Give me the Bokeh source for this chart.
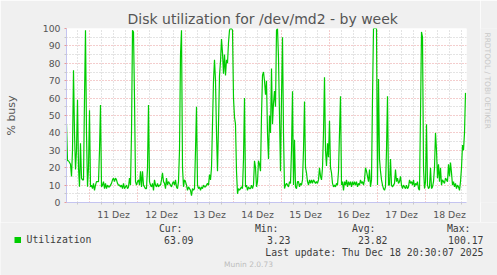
import math
from bokeh.plotting import figure
from bokeh.layouts import column, row
from bokeh.models import Range1d, FixedTicker, Legend, LegendItem
from bokeh.core.properties import value
from bokeh.embed import file_html
from bokeh.resources import INLINE

# ---------------- data ----------------
TITLE = "Disk utilization for /dev/md2 - by week"
Y_LABEL = "% busy"
SERIES_NAME = "Utilization"

START_HOUR = 12.5      # Dec 10, 12:30 (hours since Dec 10 00:00)
STEP_HOURS = 0.5       # one sample every 30 minutes
END_HOUR = 212.5       # Dec 18, 20:30

utilization = [
    45, 24, 24, 23, 22, 15, 30, 76, 40, 19,
    30, 59, 20, 9, 34, 14, 13, 13, 60, 99,
    40, 9, 20, 53, 9, 10, 8, 11, 7, 10,
    12, 12, 12, 30, 56, 9, 10, 12, 8, 11,
    8, 10, 9, 9, 10, 11, 13, 14, 12, 14,
    13, 11, 10, 10, 9, 10, 8, 11, 8, 9,
    10, 8, 9, 14, 10, 40, 99, 98, 60, 12,
    10, 12, 13, 10, 18, 9, 18, 10, 9, 8,
    8, 20, 56, 12, 10, 9, 11, 7, 13, 10,
    9, 11, 9, 10, 10, 13, 17, 12, 11, 8,
    14, 10, 12, 11, 10, 9, 11, 12, 10, 13,
    9, 8, 12, 30, 85, 99, 20, 9, 13, 12,
    10, 7, 9, 8, 7, 4, 8, 7, 8, 30,
    55, 10, 8, 9, 7, 9, 8, 10, 9, 9,
    10, 11, 10, 16, 13, 20, 45, 70, 82, 70,
    40, 18, 45, 73, 81, 94, 86, 74, 85, 73,
    82, 80, 92, 99, 100.2, 100, 99, 60, 49, 45,
    18, 5, 8, 7, 8, 9, 8, 25, 60, 9,
    10, 7, 9, 8, 8, 10, 8, 10, 24, 20,
    9, 12, 24, 22, 18, 50, 73, 75, 70, 62,
    70, 40, 25, 50, 40, 77, 45, 57, 64, 55,
    99, 100, 83, 50, 18, 60, 95, 40, 8, 10,
    11, 10, 9, 12, 11, 30, 64, 10, 36, 9,
    8, 12, 12, 9, 11, 10, 13, 30, 58, 20,
    17, 12, 10, 13, 11, 13, 11, 13, 12, 11,
    12, 11, 13, 20, 15, 13, 20, 40, 72, 30,
    21, 34, 26, 47, 20, 17, 11, 9, 10, 9,
    11, 10, 18, 40, 61, 10, 12, 7, 12, 10,
    13, 9, 12, 10, 12, 9, 12, 10, 12, 10,
    12, 9, 11, 10, 13, 11, 12, 10, 13, 20,
    18, 15, 12, 19, 9, 13, 60, 100, 100, 100,
    100, 10, 71, 25, 18, 13, 10, 8, 7, 9,
    30, 61, 10, 10, 25, 10, 9, 10, 11, 19,
    12, 14, 11, 12, 15, 10, 8, 10, 9, 8,
    10, 8, 9, 13, 11, 12, 10, 13, 9, 11,
    10, 12, 8, 7, 50, 98, 95, 20, 8, 12,
    45, 10, 8, 9, 20, 8, 9, 12, 20, 40,
    30, 14, 22, 12, 20, 10, 13, 12, 11, 14,
    13, 12, 22, 15, 23, 17, 10, 12, 9, 11,
    8, 10, 9, 7, 12, 20, 33, 30, 40, 63,
]

day_labels = ["11 Dez", "12 Dez", "13 Dez", "14 Dez",
              "15 Dez", "16 Dez", "17 Dez", "18 Dez"]
day_noon_hours = [36, 60, 84, 108, 132, 156, 180, 204]
day_start_hours = [24, 48, 72, 96, 120, 144, 168, 192]
six_hour_marks = [18, 30, 36, 42, 54, 60, 66, 78, 84, 90, 102, 108, 114,
                  126, 132, 138, 150, 156, 162, 174, 180, 186, 198, 204, 210]

y_ticks = [0, 10, 20, 30, 40, 50, 60, 70, 80, 90, 100]
y_minor = [5, 15, 25, 35, 45, 55, 65, 75, 85, 95]

stat_names = ["Cur:", "Min:", "Avg:", "Max:"]
stat_values = ["63.09", "3.23", "23.82", "100.17"]
last_update = "Last update: Thu Dec 18 20:30:07 2025"
munin_version = "Munin 2.0.73"
watermark = "RRDTOOL / TOBI OETIKER"

hours = [START_HOUR + i * STEP_HOURS for i in range(len(utilization))]

# ---------------- styling / layout ----------------
W, H = 497, 275
MAIN_W, MAIN_H = 480, 222
FL, FT, FW, FH = 66, 28, 400, 175
BG = "#f0f0f0"
AXIS_COL = "#c4c4f0"
MAJOR_GRID = "#e89a9a"
MINOR_GRID = "#c8c8c8"
GREEN = "#00cc00"
TXT = "#555555"
LEG_TXT = "#3c3c3c"
MONO = "DejaVu Sans Mono"

p = figure(width=MAIN_W, height=MAIN_H, output_backend="svg", toolbar_location=None,
           x_range=Range1d(START_HOUR, END_HOUR), y_range=Range1d(0, 100),
           min_border_left=FL, min_border_right=MAIN_W - FL - FW,
           min_border_top=FT, min_border_bottom=MAIN_H - FT - FH,
           background_fill_color="white", border_fill_color=BG,
           outline_line_color=None)

p.title.text = TITLE
p.title.align = "left"
p.title.offset = 61
p.title.text_font = "DejaVu Sans"
p.title.text_font_size = "14px"
p.title.text_font_style = "normal"
p.title.text_color = TXT
p.title.standoff = 3

xa = p.xaxis[0]
xa.ticker = FixedTicker(ticks=day_noon_hours, minor_ticks=six_hour_marks)
xa.major_label_overrides = {h: lab for h, lab in zip(day_noon_hours, day_labels)}
xa.axis_line_color = AXIS_COL
xa.major_tick_out = 0
xa.major_tick_in = 0
xa.minor_tick_out = 2
xa.minor_tick_in = 0
xa.minor_tick_line_color = MINOR_GRID
xa.major_label_standoff = 4
xa.major_label_text_font = "DejaVu Sans"
xa.major_label_text_font_size = "9.3px"
xa.major_label_text_color = TXT

ya = p.yaxis[0]
ya.ticker = FixedTicker(ticks=y_ticks, minor_ticks=y_minor)
ya.axis_line_color = AXIS_COL
ya.major_tick_out = 2
ya.major_tick_in = 0
ya.major_tick_line_color = MAJOR_GRID
ya.minor_tick_out = 2
ya.minor_tick_in = 0
ya.minor_tick_line_color = MINOR_GRID
ya.major_label_standoff = 4
ya.major_label_text_font = "DejaVu Sans"
ya.major_label_text_font_size = "9.3px"
ya.major_label_text_color = TXT
ya.axis_label = Y_LABEL
ya.axis_label_text_font = "DejaVu Sans"
ya.axis_label_text_font_size = "11px"
ya.axis_label_text_font_style = "normal"
ya.axis_label_text_color = TXT
ya.axis_label_standoff = 22

xg = p.xgrid[0]
xg.ticker = FixedTicker(ticks=day_start_hours, minor_ticks=six_hour_marks)
xg.grid_line_color = MAJOR_GRID
xg.grid_line_dash = "1 2"
xg.minor_grid_line_color = MINOR_GRID
xg.minor_grid_line_dash = "1 2"
yg = p.ygrid[0]
yg.ticker = FixedTicker(ticks=y_ticks[1:], minor_ticks=y_minor)
yg.grid_line_color = MAJOR_GRID
yg.grid_line_dash = "1 2"
yg.minor_grid_line_color = MINOR_GRID
yg.minor_grid_line_dash = "1 2"

p.line(hours, utilization, line_color=GREEN, line_width=1.2)


def panel(w, h):
    f = figure(width=w, height=h, output_backend="svg", toolbar_location=None,
               x_range=Range1d(0, w), y_range=Range1d(h, 0),
               x_axis_type=None, y_axis_type=None, min_border=0,
               background_fill_color=BG, border_fill_color=BG,
               outline_line_color=None)
    f.xgrid.visible = False
    f.ygrid.visible = False
    return f


# watermark strip at the right (pixel coordinates inside the strip)
wm = panel(W - MAIN_W, MAIN_H)
wm.text(x=[487 - MAIN_W], y=[5], text=[watermark], angle=-math.pi / 2,
        text_font=value("DejaVu Sans"), text_font_size="7.5px",
        text_color="#c8c8c8", text_align="left", text_baseline="middle")

# legend / statistics area below (pixel coordinates, y from the strip's top)
LEG_H = H - MAIN_H
lg = panel(W, LEG_H)
row1, row2, row3, row4 = 228 - MAIN_H, 239.5 - MAIN_H, 251.5 - MAIN_H, 263.5 - MAIN_H
lg.text(x=[182, 278, 375, 470], y=[row1] * 4, text=stat_names,
        text_font=value(MONO), text_font_size="9.8px", text_color=LEG_TXT,
        text_align="right", text_baseline="middle")
lg.text(x=[193, 290, 387, 483], y=[row2] * 4, text=stat_values,
        text_font=value(MONO), text_font_size="9.8px", text_color=LEG_TXT,
        text_align="right", text_baseline="middle")
lg.text(x=[483], y=[row3], text=[last_update],
        text_font=value(MONO), text_font_size="9.8px", text_color=LEG_TXT,
        text_align="right", text_baseline="middle")
lg.text(x=[248], y=[row4], text=[munin_version],
        text_font=value("DejaVu Sans"), text_font_size="7.5px", text_color="#bdbdbd",
        text_align="center", text_baseline="middle")
swatch = lg.scatter(x=[17], y=[row2], marker="square", size=6,
                    fill_color=GREEN, line_color=None)
legend = Legend(items=[LegendItem(label=SERIES_NAME, renderers=[swatch])],
                location=(9.5, LEG_H - (row2 + 7.5)),
                padding=0, margin=0, spacing=0,
                glyph_width=15, glyph_height=15, label_height=15,
                label_standoff=2, border_line_color=None,
                background_fill_alpha=0,
                label_text_font=MONO, label_text_font_size="9.8px",
                label_text_color=LEG_TXT)
lg.add_layout(legend)

layout = column(row(p, wm, spacing=0), lg, spacing=0)
open("out.html", "w").write(file_html(layout, INLINE))
